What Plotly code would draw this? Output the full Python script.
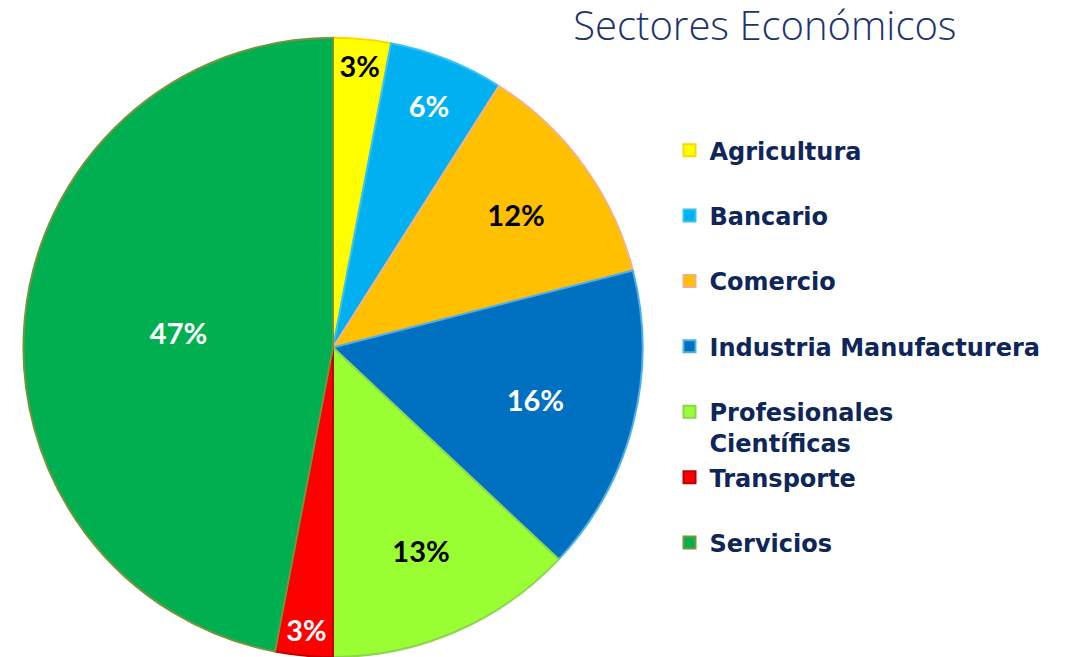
import plotly.graph_objects as go

# Data
sectores = ["Agricultura", "Bancario", "Comercio", "Industria Manufacturera",
            "Profesionales<br>Científicas", "Transporte", "Servicios"]
porcentajes = [3, 6, 12, 16, 13, 3, 47]

colores = ["#FFFF00", "#00B0F0", "#FFC000", "#0070C0", "#99FF33", "#FF0000", "#00B050"]
bordes = ["#FFD700", "#33C4F5", "#F4B183", "#4FB0E8", "#8FD450", "#C00000", "#77933C"]
texto_color = ["black", "white", "black", "white", "black", "white", "white"]

# pad single-line labels with an empty line so legend spacing matches
etiquetas = [s if "<br>" in s else s + "<br>&nbsp;" for s in sectores]

# page body has an 8px margin, so the figure is drawn 8px in from the corner
W, H = 1063, 649

fig = go.Figure()

fig.add_trace(go.Pie(
    labels=etiquetas,
    values=porcentajes,
    sort=False,
    direction="clockwise",
    rotation=0,
    textinfo="percent",
    texttemplate="%{value}%",
    textposition="inside",
    insidetextorientation="horizontal",
    insidetextfont=dict(family="Lato", size=29, color=texto_color, weight="bold"),
    marker=dict(colors=colores, line=dict(color=bordes, width=2)),
    domain=dict(x=[0.0141, 0.5974], y=[0.0, 0.954]),
    hoverinfo="label+percent",
))

fig.update_layout(
    width=W, height=H,
    margin=dict(l=0, r=0, t=0, b=0),
    paper_bgcolor="white",
    plot_bgcolor="white",
    title=dict(
        text="Sectores Económicos",
        x=0.712, xanchor="center",
        y=0.973, yanchor="middle",
        font=dict(family="Open Sans", size=40, color="#1B3370", weight=300),
    ),
    legend=dict(
        x=0.6223, xanchor="left",
        y=0.815, yanchor="top",
        valign="top",
        font=dict(family="DejaVu Sans", size=24, color="#0E2659", weight="bold"),
        traceorder="normal",
    ),
)

fig.write_html("out.html")
